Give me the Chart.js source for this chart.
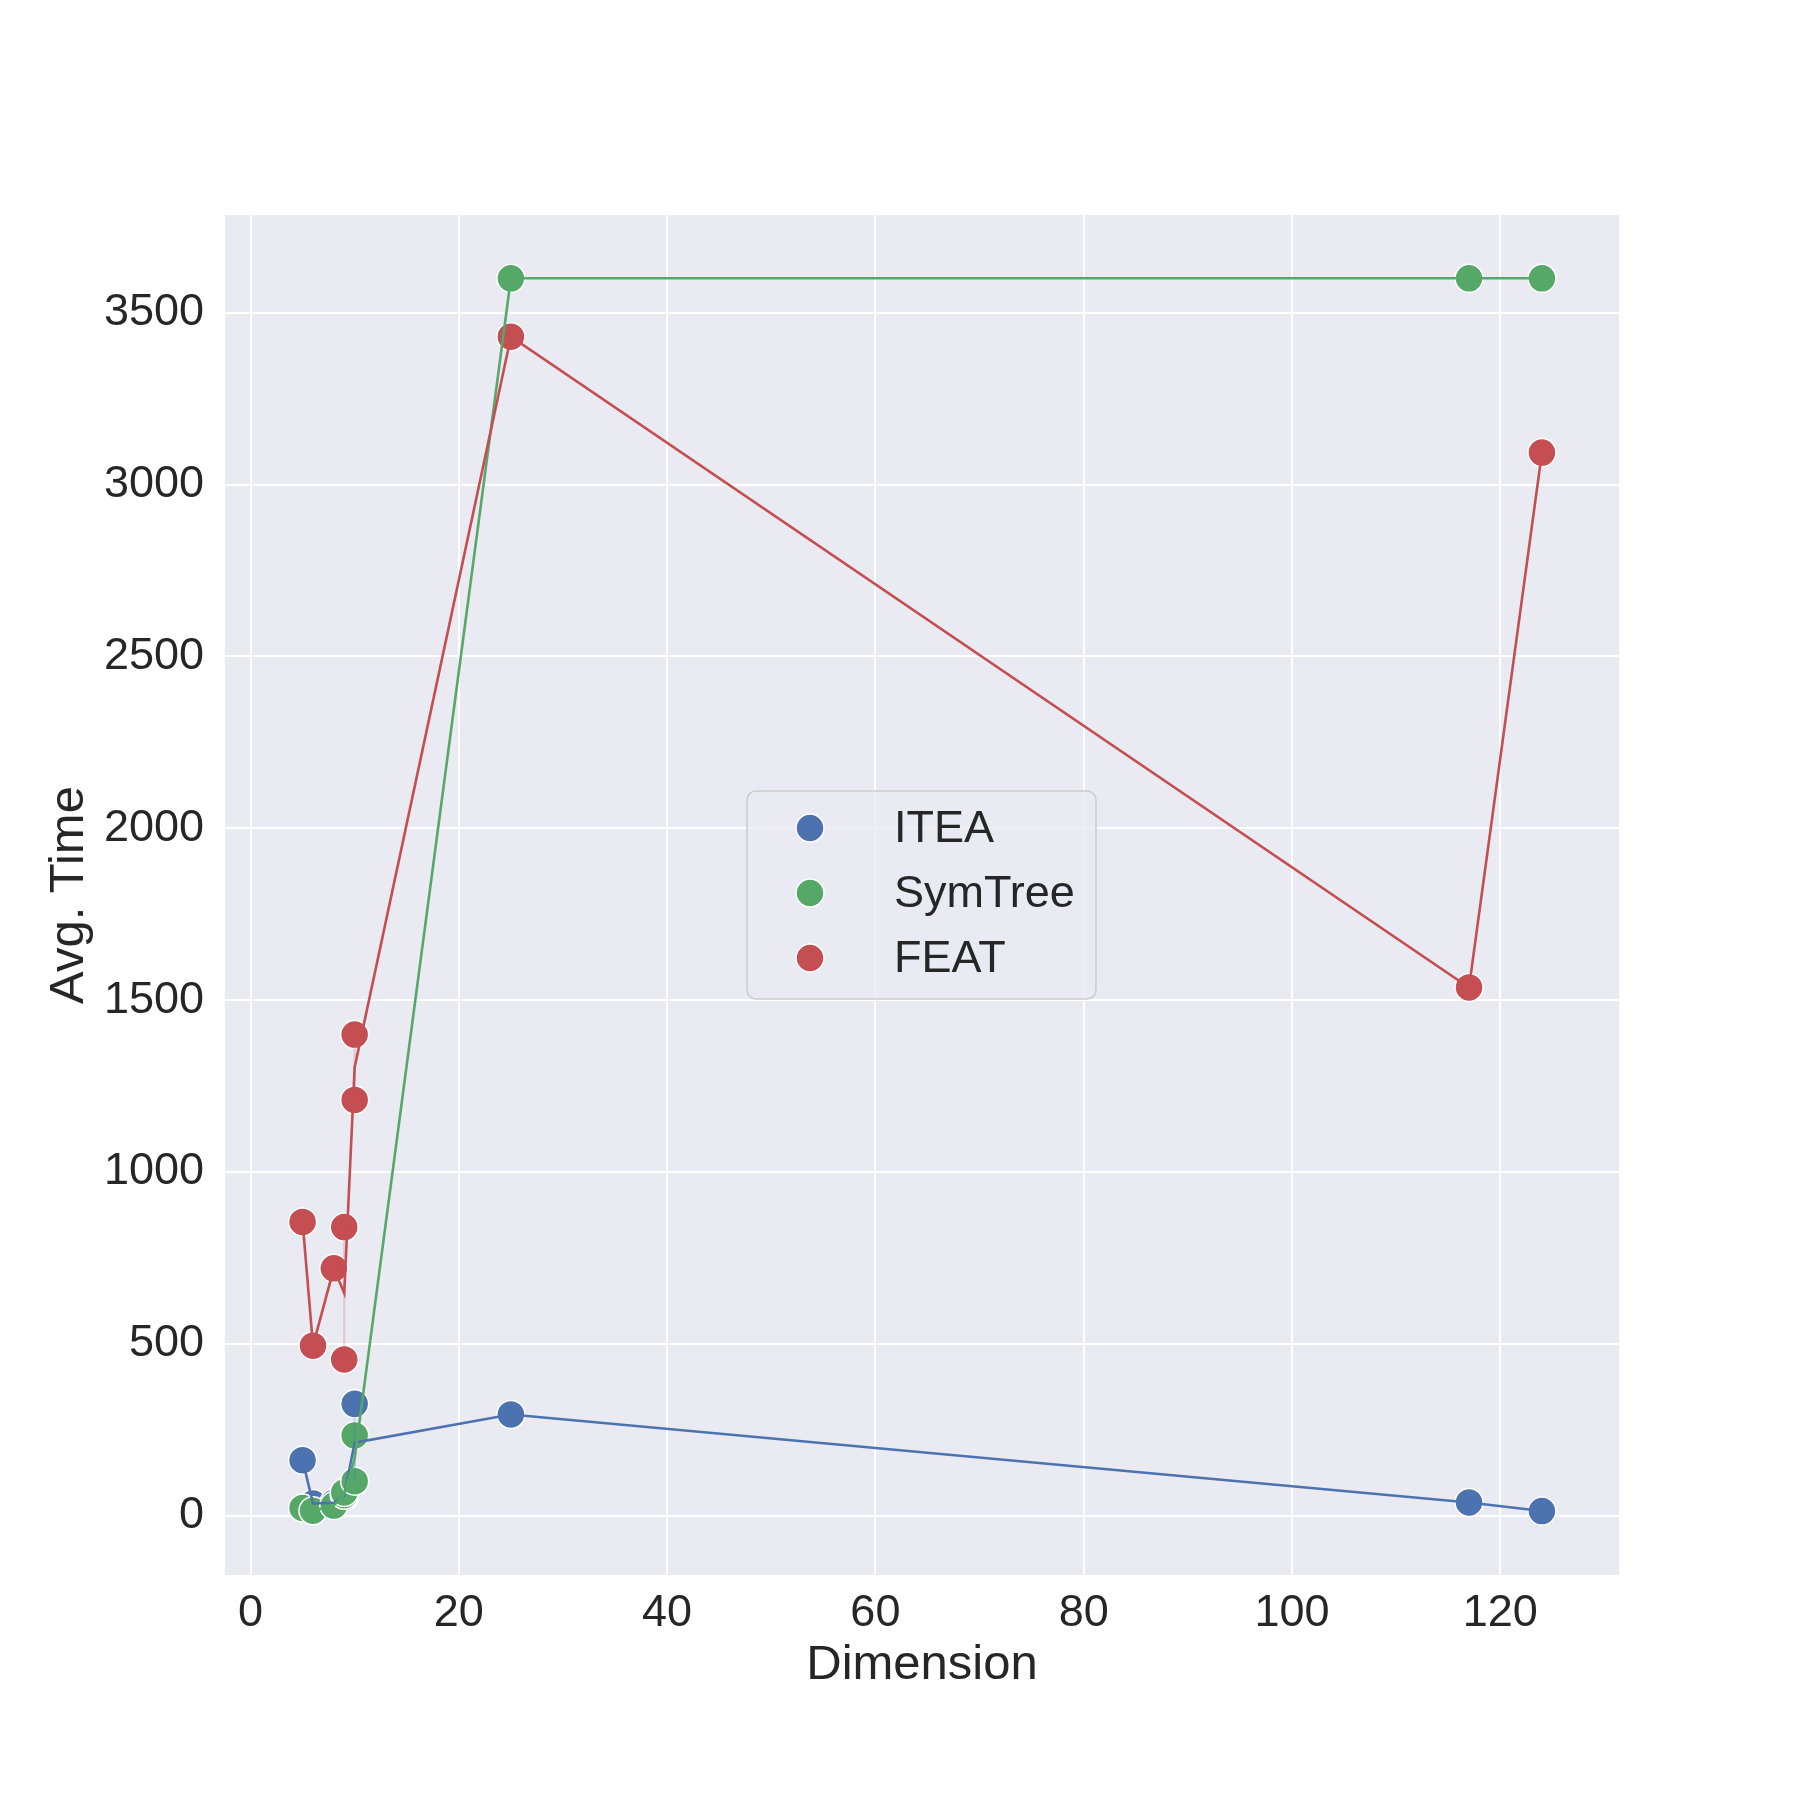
<!DOCTYPE html>
<html>
<head>
<meta charset="utf-8">
<script src="https://cdn.jsdelivr.net/npm/chart.js@4"></script>
<style>
  body { margin: 0; background: #ffffff; }
  canvas { display: block; }
</style>
</head>
<body>
<canvas id="grafico" width="1800" height="1800"></canvas>
<script>
// dados (um ponto por base de dados)
const dimensoes = [5, 6, 8, 9, 9, 10, 10, 25, 117, 124];
const tempoITEA = [162, 36, 38, 55, 65, 326, 100, 295, 39, 14];
const tempoSymTree = [23, 15, 30, 60, 68, 234, 101, 3600, 3600, 3600];
const tempoFEAT = [855, 495, 720, 840, 455, 1400, 1210, 3430, 1537, 3093];

const nomes = ["ITEA", "SymTree", "FEAT"];
const cores = ["#4C72B0", "#55A868", "#C44E52"];
const ticksX = [0, 20, 40, 60, 80, 100, 120];
const ticksY = [0, 500, 1000, 1500, 2000, 2500, 3000, 3500];

const fonte = "'Liberation Sans', Arial, sans-serif";
const corTexto = "#262626";

function pontos(xs, ys) {
    return xs.map((x, i) => ({ x: x, y: ys[i] }));
}

// média por dimensão (como o lineplot do seaborn)
function medias(xs, ys) {
    const grupos = {};
    xs.forEach((x, i) => {
        if (!grupos[x]) grupos[x] = [];
        grupos[x].push(ys[i]);
    });
    return Object.keys(grupos).map(Number).sort((a, b) => a - b).map(x => ({
        x: x,
        y: grupos[x].reduce((a, b) => a + b, 0) / grupos[x].length
    }));
}

// faixa min-max onde há mais de um valor
function faixas(xs, ys) {
    const grupos = {};
    xs.forEach((x, i) => {
        if (!grupos[x]) grupos[x] = [];
        grupos[x].push(ys[i]);
    });
    const out = [];
    Object.keys(grupos).map(Number).sort((a, b) => a - b).forEach(x => {
        if (grupos[x].length > 1) {
            if (out.length) out.push({ x: NaN, y: NaN });
            out.push({ x: x, y: Math.min(...grupos[x]) });
            out.push({ x: x, y: Math.max(...grupos[x]) });
        }
    });
    return out;
}

function comAlpha(hex, a) {
    const n = parseInt(hex.slice(1), 16);
    return "rgba(" + (n >> 16) + "," + ((n >> 8) & 255) + "," + (n & 255) + "," + a + ")";
}

const series = [tempoITEA, tempoSymTree, tempoFEAT];
const datasets = [];

series.forEach((valores, i) => {
    // marcadores
    datasets.push({
        label: nomes[i],
        data: pontos(dimensoes, valores),
        showLine: false,
        pointRadius: 14,
        pointHoverRadius: 14,
        pointBackgroundColor: cores[i],
        pointBorderColor: "#ffffff",
        pointBorderWidth: 1.5,
        order: 10 - i
    });
    // faixa de confiança
    datasets.push({
        label: "_faixa",
        data: faixas(dimensoes, valores),
        showLine: true,
        spanGaps: false,
        borderColor: comAlpha(cores[i], 0.2),
        borderWidth: 2.5,
        pointRadius: 0,
        order: 6
    });
    // linha das médias
    datasets.push({
        label: "_linha",
        data: medias(dimensoes, valores),
        showLine: true,
        borderColor: cores[i],
        borderWidth: 2.6,
        pointRadius: 0,
        order: 3 - i
    });
});

const fundoPlugin = {
    id: "fundo",
    beforeDraw(chart) {
        const ctx = chart.ctx;
        const a = chart.chartArea;
        ctx.save();
        ctx.fillStyle = "#ffffff";
        ctx.fillRect(0, 0, chart.width, chart.height);
        ctx.fillStyle = "#EAEAF2";
        ctx.fillRect(a.left, a.top, a.right - a.left, a.bottom - a.top);
        ctx.restore();
    }
};

const legendaPlugin = {
    id: "legenda",
    afterDraw(chart) {
        const ctx = chart.ctx;
        const x0 = 747, y0 = 791, w = 349, h = 208, r = 9;
        ctx.save();
        ctx.beginPath();
        ctx.roundRect(x0, y0, w, h, r);
        ctx.fillStyle = "rgba(234,234,242,0.8)";
        ctx.fill();
        ctx.lineWidth = 1.5;
        ctx.strokeStyle = "#cccccc";
        ctx.stroke();
        ctx.font = "45px " + fonte;
        ctx.textBaseline = "middle";
        ctx.textAlign = "left";
        nomes.forEach((nome, i) => {
            const cy = 828 + i * 65;
            ctx.beginPath();
            ctx.arc(810, cy, 14, 0, Math.PI * 2);
            ctx.fillStyle = cores[i];
            ctx.fill();
            ctx.lineWidth = 1.5;
            ctx.strokeStyle = "#ffffff";
            ctx.stroke();
            ctx.fillStyle = corTexto;
            ctx.fillText(nome, 894, cy + 2);
        });
        ctx.restore();
    }
};

new Chart(document.getElementById("grafico").getContext("2d"), {
    type: "scatter",
    data: { datasets: datasets },
    options: {
        responsive: false,
        animation: false,
        devicePixelRatio: 1,
        layout: { padding: { top: 215, right: 181, left: 0, bottom: 0 } },
        plugins: {
            legend: { display: false },
            tooltip: { enabled: false }
        },
        scales: {
            x: {
                type: "linear",
                min: -2.45,
                max: 131.4,
                afterFit(scale) { scale.height = 225; },
                afterBuildTicks(scale) { scale.ticks = ticksX.map(v => ({ value: v })); },
                grid: { color: "#ffffff", lineWidth: 2, drawTicks: false },
                border: { display: false },
                ticks: {
                    padding: 12,
                    color: corTexto,
                    font: { family: fonte, size: 45 },
                    callback: v => String(v)
                },
                title: {
                    display: true,
                    text: "Dimension",
                    color: corTexto,
                    font: { family: fonte, size: 49 },
                    padding: { top: 0, bottom: 105 }
                }
            },
            y: {
                type: "linear",
                min: -172,
                max: 3784,
                afterFit(scale) { scale.width = 225; },
                afterBuildTicks(scale) { scale.ticks = ticksY.map(v => ({ value: v })); },
                grid: { color: "#ffffff", lineWidth: 2, drawTicks: false },
                border: { display: false },
                ticks: {
                    padding: 21,
                    color: corTexto,
                    font: { family: fonte, size: 45 },
                    callback: v => String(v)
                },
                title: {
                    display: true,
                    text: "Avg. Time",
                    color: corTexto,
                    font: { family: fonte, size: 49 },
                    padding: { top: 40, bottom: 0 }
                }
            }
        }
    },
    plugins: [fundoPlugin, legendaPlugin]
});
</script>
</body>
</html>
